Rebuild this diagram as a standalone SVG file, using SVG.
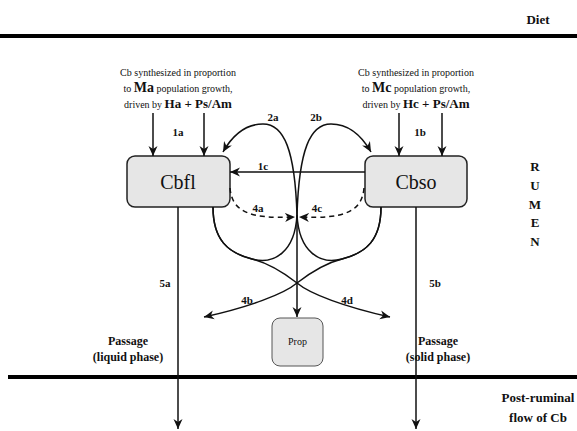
<svg xmlns="http://www.w3.org/2000/svg" width="577" height="431" viewBox="0 0 577 431" font-family="'Liberation Serif', 'Times New Roman', 'DejaVu Serif', serif">
<style>
text{font-family:'Liberation Serif','Times New Roman','DejaVu Serif',serif;fill:#111}
.lbl{font-weight:bold;font-size:11px;text-anchor:middle}
.pas{font-weight:bold;font-size:12px;text-anchor:middle}
.big{font-weight:bold;font-size:13px;text-anchor:middle}
.box{fill:#e6e6e6;stroke:#222;stroke-width:1.5}
.c{fill:none;stroke:#111;stroke-width:1.5}
.d{fill:none;stroke:#111;stroke-width:1.5;stroke-dasharray:5,4}
.bar{stroke:#000;stroke-width:4}
</style>
<defs>
<marker id="ah" viewBox="0 0 10 10" refX="10" refY="5" markerWidth="10" markerHeight="10" markerUnits="userSpaceOnUse" orient="auto">
<path d="M0,0.5 L10,5 L0,9.5 L3,5 z" fill="#111"/>
</marker>
</defs>
<rect width="577" height="431" fill="#fff"/>

<g id="bands">
<line class="bar" x1="0" y1="36" x2="577" y2="36"/>
<line class="bar" x1="8" y1="377" x2="577" y2="377"/>
<text class="big" x="538" y="24">Diet</text>
<text class="big" x="535" y="171">R</text>
<text class="big" x="535" y="190">U</text>
<text class="big" x="535" y="209">M</text>
<text class="big" x="535" y="227">E</text>
<text class="big" x="535" y="246">N</text>
<text class="big" x="538" y="402">Post-ruminal</text>
<text class="big" x="538" y="422">flow of Cb</text>
<text class="pas" x="128" y="345">Passage</text>
<text class="pas" x="128" y="361">(liquid phase)</text>
<text class="pas" x="438" y="345">Passage</text>
<text class="pas" x="438" y="361">(solid phase)</text>
</g>

<g id="srcA">
<text x="178" y="76" font-size="10" text-anchor="middle">Cb synthesized in proportion</text>
<text x="178" y="92" font-size="10" text-anchor="middle">to <tspan font-weight="bold" font-size="14">Ma</tspan> population growth,</text>
<text x="178" y="108" font-size="10" text-anchor="middle">driven by <tspan font-weight="bold" font-size="13">Ha + Ps/Am</tspan></text>
</g>
<g id="srcC">
<text x="416" y="76" font-size="10" text-anchor="middle">Cb synthesized in proportion</text>
<text x="416" y="92" font-size="10" text-anchor="middle">to <tspan font-weight="bold" font-size="14">Mc</tspan> population growth,</text>
<text x="416" y="108" font-size="10" text-anchor="middle">driven by <tspan font-weight="bold" font-size="13">Hc + Ps/Am</tspan></text>
</g>

<g id="Cbfl">
<rect class="box" x="127" y="156" width="103" height="51" rx="8"/>
<text x="178" y="189" font-size="20" text-anchor="middle">Cbfl</text>
</g>
<g id="Cbso">
<rect class="box" x="365" y="156" width="102" height="51" rx="8"/>
<text x="416" y="189" font-size="20" text-anchor="middle">Cbso</text>
</g>
<g id="Prop">
<rect x="272" y="318" width="51" height="48" rx="8" fill="#e6e6e6" stroke="#555" stroke-width="1"/>
<text x="297.5" y="345" font-size="10" text-anchor="middle">Prop</text>
</g>

<g id="connectors">
<line class="c" x1="153" y1="113" x2="153" y2="156" marker-end="url(#ah)"/>
<line class="c" x1="204" y1="113" x2="204" y2="156" marker-end="url(#ah)"/>
<line class="c" x1="399" y1="113" x2="399" y2="156" marker-end="url(#ah)"/>
<line class="c" x1="442" y1="113" x2="442" y2="156" marker-end="url(#ah)"/>
<line class="c" x1="365" y1="172" x2="230" y2="172" marker-end="url(#ah)"/>
<path class="c" d="M213,207 C213,240 228,253 252,259 C274,265 295,252 297,215 C299,150 310,124 331,124 C350,124 363,138 371,152" marker-end="url(#ah)"/>
<path class="c" d="M381,207 C381,240 366,253 342,259 C320,265 299,252 297,215 C295,150 284,124 263,124 C244,124 231,138 223,152" marker-end="url(#ah)"/>
<path class="c" d="M213,207 C213,240 228,253 252,259 C272,264 288,276 297,283 C310,294 345,307 390,317" marker-end="url(#ah)"/>
<path class="c" d="M381,207 C381,240 366,253 342,259 C322,264 306,276 297,283 C284,294 249,307 204,317" marker-end="url(#ah)"/>
<path class="d" d="M230,188 C232,212 250,219 295,217" marker-end="url(#ah)"/>
<path class="d" d="M364,188 C362,212 344,219 299,217" marker-end="url(#ah)"/>
<line class="c" x1="297" y1="215" x2="297" y2="317" marker-end="url(#ah)"/>
<line class="c" x1="178" y1="207" x2="178" y2="429" marker-end="url(#ah)"/>
<line class="c" x1="416" y1="207" x2="416" y2="429" marker-end="url(#ah)"/>
<text class="lbl" x="178" y="136">1a</text>
<text class="lbl" x="420" y="136">1b</text>
<text class="lbl" x="263" y="170">1c</text>
<text class="lbl" x="273" y="121">2a</text>
<text class="lbl" x="316" y="121">2b</text>
<text class="lbl" x="258" y="212">4a</text>
<text class="lbl" x="317" y="212">4c</text>
<text class="lbl" x="247" y="304">4b</text>
<text class="lbl" x="347" y="304">4d</text>
<text class="lbl" x="165" y="287">5a</text>
<text class="lbl" x="435" y="287">5b</text>
</g>
</svg>
